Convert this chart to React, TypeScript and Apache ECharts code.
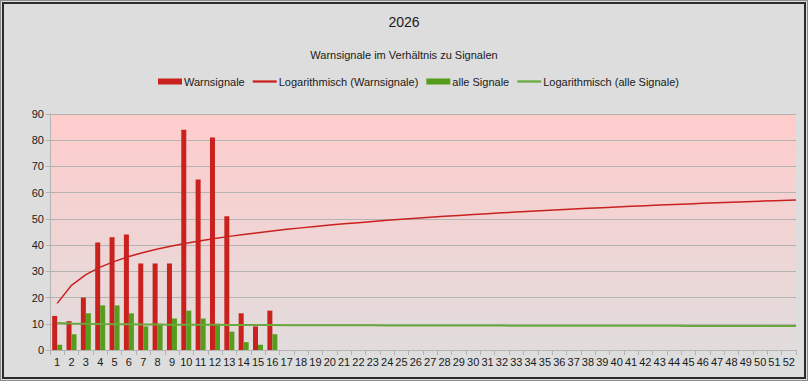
import React, { useEffect, useRef } from "react";
import * as echarts from "echarts";

const weeks: string[] = Array.from({ length: 52 }, (_, i) => String(i + 1));
const warnsignale: number[] = [13, 11, 20, 41, 43, 44, 33, 33, 33, 84, 65, 81, 51, 14, 9, 15];
const alleSignale: number[] = [2, 6, 14, 17, 17, 14, 9, 10, 12, 15, 12, 10, 7, 3, 2, 6];
const yTicks = { min: 0, max: 90, interval: 10 };

function logFit(ys: number[]) {
  const n = ys.length;
  let sL = 0, sY = 0, sLL = 0, sLY = 0;
  ys.forEach((y, i) => {
    const L = Math.log(i + 1);
    sL += L; sY += y; sLL += L * L; sLY += L * y;
  });
  const a = (n * sLY - sL * sY) / (n * sLL - sL * sL);
  const b = (sY - a * sL) / n;
  return (x: number) => a * Math.log(x) + b;
}

function trend(ys: number[]): [number, number][] {
  const f = logFit(ys);
  const xs: number[] = [];
  for (let x = 1; x <= 52; x += 1) xs.push(x);
  xs.push(52.5);
  return xs.map((x) => [x, f(x)]);
}

const RED = "#c9211e";
const GREEN = "#579d1c";
const RED_LINE = "#c9211e";
const GREEN_LINE = "#6aaa3c";
const FONT = "Liberation Sans";
const LINE_ICON = "path://M0,0H21V2H0Z";

export default function App() {
  const ref = useRef<HTMLDivElement>(null);
  useEffect(() => {
    if (!ref.current) return;
    const chart = echarts.init(ref.current, undefined, { renderer: "svg" });
    chart.setOption({
      animation: false,
      backgroundColor: "transparent",
      textStyle: { fontFamily: FONT },
      title: [
        {
          text: "2026",
          left: "center",
          top: 10,
          textStyle: { fontSize: 14, fontWeight: "normal", color: "#1a1a1a", fontFamily: FONT },
        },
        {
          text: "Warnsignale im Verhältnis zu Signalen",
          left: "center",
          top: 44,
          textStyle: { fontSize: 11, fontWeight: "normal", color: "#1a1a1a", fontFamily: FONT },
        },
      ],
      legend: {
        top: 71,
        left: 153,
        itemGap: 8,
        itemWidth: 24,
        itemHeight: 6,
        textStyle: { fontSize: 11, color: "#1a1a1a", fontFamily: FONT, padding: [0, 0, 0, -3] },
        data: [
          { name: "Warnsignale", icon: "rect" },
          { name: "Logarithmisch (Warnsignale)", icon: LINE_ICON, symbolKeepAspect: true },
          { name: "alle Signale", icon: "rect" },
          { name: "Logarithmisch (alle Signale)", icon: LINE_ICON, symbolKeepAspect: true },
        ],
      },
      grid: {
        left: 50,
        right: 12,
        top: 114,
        bottom: 31,
        show: true,
        borderWidth: 0,
        backgroundColor: new echarts.graphic.LinearGradient(0, 0, 0, 1, [
          { offset: 0, color: "#ffcccc" },
          { offset: 1, color: "#e2dcdc" },
        ]),
      },
      xAxis: [
        {
          type: "category",
          data: weeks,
          boundaryGap: true,
          axisLine: { show: true, lineStyle: { color: "#b3b3b3" } },
          axisTick: { show: true, length: 5, alignWithLabel: false, lineStyle: { color: "#b3b3b3" } },
          axisLabel: { interval: 0, fontSize: 11, color: "#1a1a1a", margin: 6, fontFamily: FONT },
        },
        {
          type: "value",
          min: 0.5,
          max: 52.5,
          show: false,
        },
      ],
      yAxis: {
        type: "value",
        min: yTicks.min,
        max: yTicks.max,
        interval: yTicks.interval,
        axisLine: { show: true, lineStyle: { color: "#b3b3b3" } },
        axisTick: { show: true, length: 4, lineStyle: { color: "#b3b3b3" } },
        axisLabel: { fontSize: 11, color: "#1a1a1a", margin: 6, fontFamily: FONT },
        splitLine: { show: true, lineStyle: { color: "#b3b3b3", width: 1 } },
      },
      series: [
        {
          name: "Warnsignale",
          type: "bar",
          data: warnsignale,
          barWidth: 5,
          barGap: "0%",
          itemStyle: { color: RED },
        },
        {
          name: "Logarithmisch (Warnsignale)",
          type: "line",
          xAxisIndex: 1,
          data: trend(warnsignale),
          symbol: "none",
          lineStyle: { color: RED_LINE, width: 1.5 },
          itemStyle: { color: RED_LINE },
          z: 5,
        },
        {
          name: "alle Signale",
          type: "bar",
          data: alleSignale,
          barWidth: 5,
          barGap: "0%",
          itemStyle: { color: GREEN },
        },
        {
          name: "Logarithmisch (alle Signale)",
          type: "line",
          xAxisIndex: 1,
          data: trend(alleSignale),
          symbol: "none",
          lineStyle: { color: GREEN_LINE, width: 2 },
          itemStyle: { color: GREEN_LINE },
          z: 5,
        },
      ],
    });
    return () => chart.dispose();
  }, []);

  return (
    <div
      style={{
        position: "fixed",
        left: 0,
        top: 0,
        width: 808,
        height: 381,
        boxSizing: "border-box",
        border: "1px solid #8c8c8c",
        background: "#dddddd",
      }}
    >
      <div
        style={{
          position: "absolute",
          left: 1,
          top: 1,
          right: 1,
          bottom: 1,
          border: "2px solid #2b2b2b",
          boxSizing: "border-box",
        }}
      />
      <div
        ref={ref}
        style={{ position: "absolute", left: -1, top: -1, width: 808, height: 381 }}
      />
    </div>
  );
}
